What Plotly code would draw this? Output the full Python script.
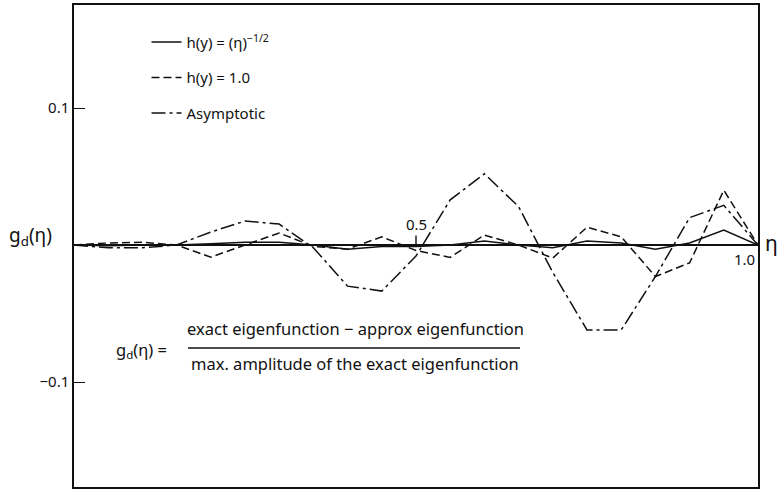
import plotly.graph_objects as go

# ---- data ----
eta = [0.00, 0.05, 0.10, 0.15, 0.20, 0.25, 0.30, 0.35, 0.40, 0.45, 0.50,
       0.55, 0.60, 0.65, 0.70, 0.75, 0.80, 0.85, 0.90, 0.95, 1.00]

g_h_sqrt = [0.0, -0.0005, 0.0, 0.0, 0.001, 0.002, 0.002, 0.0, -0.003, -0.001, -0.001,
            0.0, 0.003, 0.0, -0.002, 0.003, 0.0015, -0.003, 0.0015, 0.011, 0.0]

g_h_one = [0.0, 0.0015, 0.002, 0.0, -0.0088, 0.0, 0.0088, -0.001, -0.003, 0.006, -0.004,
           -0.009, 0.0073, 0.0, -0.0095, 0.013, 0.006, -0.023, -0.013, 0.040, 0.0]

g_asym = [0.0, -0.002, -0.002, 0.0, 0.0095, 0.0175, 0.0153, -0.002, -0.030, -0.0336, -0.008,
          0.033, 0.052, 0.028, -0.020, -0.062, -0.062, -0.023, 0.020, 0.029, 0.0]

series_names = ["h(y) = (η)<sup>−1/2</sup>", "h(y) = 1.0", "Asymptotic"]
y_tick_vals = [-0.1, 0.1]
y_tick_text = ["−0.1", "0.1"]

FONT = "Noto Sans"
INK = "#111111"

fig = go.Figure()
styles = [
    dict(dash="solid", width=1.5),
    dict(dash="8px,4px", width=1.5),
    dict(dash="14px,4px,3px,4px", width=1.5),
]
for i, (name, ys) in enumerate(zip(series_names, [g_h_sqrt, g_h_one, g_asym])):
    fig.add_trace(go.Scatter(
        x=eta, y=ys, mode="lines", name=name, legendgroup=str(i),
        line=dict(color=INK, **styles[i]),
    ))

fig.update_layout(
    width=781, height=490,
    margin=dict(l=74, r=23, t=5, b=3, pad=0),
    paper_bgcolor="white", plot_bgcolor="white",
    font=dict(family=FONT, size=15, color=INK),
    showlegend=True,
    legend=dict(
        x=0.106, y=0.957, xanchor="left", yanchor="top",
        bgcolor="rgba(0,0,0,0)", borderwidth=0,
        traceorder="grouped", tracegroupgap=13,
        font=dict(family=FONT, size=15, color=INK),
    ),
    xaxis=dict(
        range=[0, 1], showgrid=False, zeroline=False, showticklabels=False,
        ticks="", showline=True, mirror=True, linecolor=INK, linewidth=1.5,
    ),
    yaxis=dict(
        range=[-0.1766, 0.1752], showgrid=False,
        zeroline=True, zerolinecolor=INK, zerolinewidth=1.7,
        tickmode="array", tickvals=y_tick_vals, ticktext=y_tick_text,
        ticks="inside", ticklen=11, tickwidth=1.4, tickcolor=INK,
        tickfont=dict(family=FONT, size=15, color=INK),
        showline=True, mirror=True, linecolor=INK, linewidth=1.5,
    ),
)

ann = []
# axis label on the left
ann.append(dict(xref="paper", yref="y", x=0, y=0, xanchor="right", yanchor="middle",
                xshift=-20, yshift=9, showarrow=False,
                text="g<sub>d</sub>(η)", font=dict(size=19, family=FONT, color=INK)))
# eta label at the right
ann.append(dict(xref="paper", yref="y", x=1, y=0, xanchor="left", yanchor="middle",
                xshift=5, yshift=2, showarrow=False,
                text="η", font=dict(size=21, family=FONT, color=INK)))
# 0.5 tick on the zero line
ann.append(dict(xref="x", yref="y", x=0.5, y=0, showarrow=True, arrowhead=0,
                arrowwidth=1.4, arrowcolor=INK, ax=0, ay=-21, standoff=0,
                text="0.5", font=dict(size=15, family=FONT, color=INK)))
# 1.0 label
ann.append(dict(xref="x", yref="y", x=1.0, y=0, xanchor="right", yanchor="top",
                xshift=-1, yshift=-2, showarrow=False,
                text="1.0", font=dict(size=15, family=FONT, color=INK)))
# definition formula
ann.append(dict(xref="x", yref="y", x=0.058, y=-0.0766, xanchor="left", yanchor="middle",
                showarrow=False, text="g<sub>d</sub>(η) =",
                font=dict(size=16.5, family=FONT, color=INK)))
ann.append(dict(xref="x", yref="y", x=0.412, y=-0.0606, xanchor="center", yanchor="middle",
                showarrow=False, text="exact eigenfunction − approx eigenfunction",
                font=dict(size=16.5, family=FONT, color=INK)))
ann.append(dict(xref="x", yref="y", x=0.411, y=-0.0861, xanchor="center", yanchor="middle",
                showarrow=False, text="max. amplitude of the exact eigenfunction",
                font=dict(size=16.5, family=FONT, color=INK)))
fig.update_layout(annotations=ann)

fig.add_shape(type="line", xref="x", yref="y", x0=0.1667, x1=0.652, y0=-0.0752, y1=-0.0752,
              line=dict(color=INK, width=1.4))

fig.write_html("out.html")
